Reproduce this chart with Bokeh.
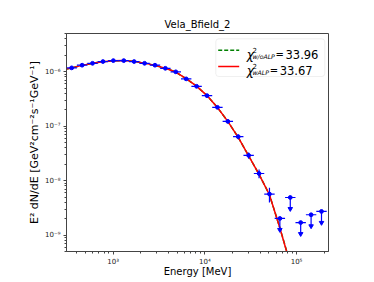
import numpy as np
from bokeh.plotting import figure
from bokeh.models import (ColumnDataSource, FixedTicker, CustomJSTickFormatter,
                          Label, BoxAnnotation, Arrow, Range1d)
from bokeh.embed import file_html
from bokeh.resources import INLINE

# ---------------- data ----------------
title_text = "Vela_Bfield_2"
x_label = "Energy [MeV]"
y_label = "E\u00b2 dN/dE [GeV\u00b2cm\u207b\u00b2s\u207b\u00b9GeV\u207b\u00b9]"

energy = [353, 459, 596, 774, 1005, 1305, 1694, 2200, 2858, 3711, 4819, 6259,
          8128, 10556, 13709, 17803, 23121, 30027, 38994, 50641,
          65766, 85409, 110917, 144045, 187068]
flux = [1.17e-6, 1.31e-6, 1.42e-6, 1.53e-6, 1.59e-6, 1.59e-6, 1.53e-6, 1.42e-6,
        1.31e-6, 1.15e-6, 9.9e-7, 7.35e-7, 5.37e-7, 3.62e-7, 2.21e-7, 1.22e-7,
        6.4e-8, 2.9e-8, 1.35e-8, 5.66e-9,
        2.02e-9, 4.9e-9, 1.7e-9, 2.36e-9, 2.72e-9]
rel_err = [0.02, 0.02, 0.02, 0.02, 0.02, 0.02, 0.02, 0.02, 0.02, 0.02, 0.03, 0.03,
           0.04, 0.05, 0.06, 0.08, 0.10, 0.13, 0.18, 0.30,
           0.0, 0.0, 0.0, 0.0, 0.0]
upper_limit = [False] * 20 + [True] * 5

model_energy = [310, 353, 459, 596, 774, 1005, 1305, 1694, 2200, 2858, 3711, 4819,
                6259, 8128, 10556, 13709, 17803, 23121, 30027, 38994, 50641,
                65766, 78500, 85000]
model_walp = [1.11e-6, 1.17e-6, 1.30e-6, 1.42e-6, 1.52e-6, 1.58e-6, 1.59e-6, 1.54e-6,
              1.43e-6, 1.30e-6, 1.15e-6, 9.8e-7, 7.4e-7, 5.4e-7, 3.63e-7, 2.2e-7,
              1.22e-7, 6.2e-8, 2.85e-8, 1.3e-8, 5.5e-9, 1.35e-9, 4.8e-10, 2.6e-10]
model_woalp = [1.11e-6, 1.17e-6, 1.30e-6, 1.42e-6, 1.52e-6, 1.58e-6, 1.59e-6, 1.54e-6,
               1.43e-6, 1.30e-6, 1.15e-6, 9.8e-7, 7.4e-7, 5.4e-7, 3.63e-7, 2.2e-7,
               1.22e-7, 6.2e-8, 2.85e-8, 1.3e-8, 5.5e-9, 1.36e-9, 4.9e-10, 2.7e-10]

chi2_woalp = "33.96"
chi2_walp = "33.67"

x_major = [1e3, 1e4, 1e5]
y_major = [1e-9, 1e-8, 1e-7, 1e-6]

# ---------------- derived ----------------
E = np.array(energy, dtype=float)
F = np.array(flux, dtype=float)
R = np.array(rel_err, dtype=float)
UL = np.array(upper_limit)

logE = np.log10(E)
half = np.empty_like(logE)
half[1:-1] = (logE[2:] - logE[:-2]) / 4.0
half[0] = (logE[1] - logE[0]) / 2.0
half[-1] = (logE[-1] - logE[-2]) / 2.0
e_lo = 10 ** (logE - half)
e_hi = 10 ** (logE + half)

blue = "#0000ff"
axis_col = "#444444"

p = figure(x_axis_type="log", y_axis_type="log",
           x_range=Range1d(310, 2.23e5), y_range=Range1d(5e-10, 5e-6),
           frame_width=262, frame_height=218,
           min_border_left=66, min_border_right=30,
           min_border_top=33, min_border_bottom=20,
           output_backend="svg", toolbar_location=None, title=title_text)

p.background_fill_color = "white"
p.border_fill_color = "white"
p.outline_line_color = axis_col
p.outline_line_width = 1
p.grid.visible = False

p.title.align = "center"
p.title.text_font = "DejaVu Sans"
p.title.text_font_size = "10px"
p.title.text_font_style = "normal"
p.title.text_color = "black"
p.title.standoff = 8

fmt = CustomJSTickFormatter(code="""
const e = Math.round(Math.log10(tick));
const sup = {'-':'\u207b','0':'\u2070','1':'\u00b9','2':'\u00b2','3':'\u00b3',
             '4':'\u2074','5':'\u2075','6':'\u2076','7':'\u2077','8':'\u2078','9':'\u2079'};
return '10' + String(e).split('').map(c => sup[c]).join('');
""")

x_minor = [m * 10 ** k for k in range(2, 6) for m in range(2, 10)]
y_minor = [m * 10.0 ** k for k in range(-10, -5) for m in range(2, 10)]
p.xaxis.ticker = FixedTicker(ticks=x_major, minor_ticks=x_minor)
p.yaxis.ticker = FixedTicker(ticks=y_major, minor_ticks=y_minor)

for ax in (p.xaxis, p.yaxis):
    ax.formatter = fmt
    ax.axis_line_color = axis_col
    ax.major_tick_line_color = axis_col
    ax.minor_tick_line_color = axis_col
    ax.major_tick_in = 0
    ax.major_tick_out = 3
    ax.minor_tick_in = 0
    ax.minor_tick_out = 2
    ax.major_label_text_font = "DejaVu Sans"
    ax.major_label_text_font_size = "7px"
    ax.major_label_text_color = "#222222"
    ax.axis_label_text_font = "DejaVu Sans"
    ax.axis_label_text_font_style = "normal"
    ax.axis_label_text_color = "black"

p.xaxis.axis_label = x_label
p.xaxis.axis_label_text_font_size = "10px"
p.xaxis.major_label_standoff = 3
p.xaxis.axis_label_standoff = -3
p.yaxis.axis_label = y_label
p.yaxis.axis_label_text_font_size = "11px"
p.yaxis.major_label_standoff = 3
p.yaxis.axis_label_standoff = 1

# model curves
p.line(model_energy, model_woalp, line_color="green", line_dash="5 2", line_width=1.5)
p.line(model_energy, model_walp, line_color="red", line_width=1.5)

# detections
det = ~UL
src_det = ColumnDataSource(dict(
    x=E[det], y=F[det], lo=e_lo[det], hi=e_hi[det],
    ylo=F[det] * (1 - R[det]), yhi=F[det] * (1 + R[det])))
p.segment(x0="lo", y0="y", x1="hi", y1="y", source=src_det, line_color=blue, line_width=1.2)
p.segment(x0="x", y0="ylo", x1="x", y1="yhi", source=src_det, line_color=blue, line_width=1.2)
p.scatter(x="x", y="y", source=src_det, marker="circle", size=3.8,
          fill_color=blue, line_color=blue)

# upper limits
src_ul = ColumnDataSource(dict(
    x=E[UL], y=F[UL], lo=e_lo[UL], hi=e_hi[UL], yb=F[UL] * 0.62))
p.segment(x0="lo", y0="y", x1="hi", y1="y", source=src_ul, line_color=blue, line_width=1.2)
p.segment(x0="x", y0="y", x1="x", y1="yb", source=src_ul, line_color=blue, line_width=1.2)
p.scatter(x="x", y="y", source=src_ul, marker="circle", size=3.8,
          fill_color=blue, line_color=blue)
p.scatter(x="x", y="yb", source=src_ul, marker="inverted_triangle", size=4.5,
          fill_color=blue, line_color=blue)

# ---------------- legend (as labels, for the sub/superscripts) ----------------
def lab(x, y, text, size, style="normal"):
    p.add_layout(Label(x=x, y=y, x_units="screen", y_units="screen", text=text,
                       text_font="DejaVu Sans", text_font_size=size,
                       text_font_style=style, text_color="black",
                       text_baseline="alphabetic", text_align="left"))

p.add_layout(BoxAnnotation(left=149.3, right=258.3, top=212.7, bottom=175,
                           left_units="screen", right_units="screen",
                           top_units="screen", bottom_units="screen",
                           fill_color="white", fill_alpha=0.8,
                           line_color="#cccccc", line_width=1, border_radius=3))
p.add_layout(Arrow(end=None, x_start=151.7, y_start=201.3, x_end=172.7, y_end=201.3,
                   start_units="screen", end_units="screen",
                   line_color="green", line_dash="4 2", line_width=1.5))
p.add_layout(Arrow(end=None, x_start=151.7, y_start=185, x_end=172.7, y_end=185,
                   start_units="screen", end_units="screen",
                   line_color="red", line_width=1.5))

rows = [(197.0, "w/oALP", chi2_woalp, 209.0, 219.0),
        (180.7, "wALP", chi2_walp, 203.3, 213.2)]
for base, sub, val, xeq, xval in rows:
    lab(180.3, base, "\u03c7", "12px", "italic")
    lab(186.0, base + 5.0, "2", "7px")
    lab(186.0, base - 1.5, sub, "6.2px", "italic")
    lab(xeq, base, "=", "10px")
    lab(xval, base, val, "11.5px")

open("out.html", "w").write(file_html(p, INLINE))
